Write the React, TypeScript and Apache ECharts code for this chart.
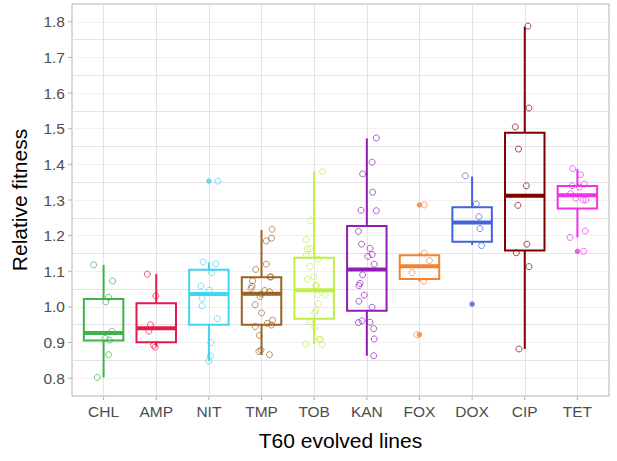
import React, { useEffect, useRef } from "react";
import * as echarts from "echarts";

const categories = ["CHL", "AMP", "NIT", "TMP", "TOB", "KAN", "FOX", "DOX", "CIP", "TET"];
const colors = ["#3cb44b", "#e6194b", "#42d4f4", "#9a6324", "#bfef45", "#911eb4", "#f58231", "#4363d8", "#800000", "#f032e6"];

// box statistics
const whiskerLow = [0.802, 0.889, 0.848, 0.865, 0.896, 0.863, 1.072, 1.174, 0.882, 1.195];
const q1 = [0.906, 0.901, 0.950, 0.950, 0.967, 0.989, 1.078, 1.183, 1.158, 1.276];
const median = [0.927, 0.940, 1.036, 1.037, 1.047, 1.105, 1.114, 1.237, 1.312, 1.313];
const q3 = [1.022, 1.010, 1.104, 1.083, 1.138, 1.227, 1.145, 1.280, 1.489, 1.339];
const whiskerHigh = [1.118, 1.092, 1.125, 1.216, 1.380, 1.473, 1.151, 1.366, 1.786, 1.387];

// boxplot outliers (filled)
const outlierCategory = [2, 6, 6, 7, 9];
const outlierValue = [1.353, 1.286, 0.922, 1.008, 1.156];

// jittered observations: values and horizontal jitter (in category units)
const chlValues = [1.118, 1.073, 1.027, 1.014, 0.932, 0.912, 0.907, 0.866, 0.802];
const chlJitter = [-0.19, 0.17, 0.095, 0.04, 0.16, 0.03, 0.11, 0.095, -0.12];
const ampValues = [1.092, 1.031, 0.950, 0.932, 0.892, 0.887];
const ampJitter = [-0.17, -0.01, -0.11, -0.14, -0.05, -0.02];
const nitValues = [1.353, 1.126, 1.121, 1.096, 1.059, 1.047, 1.024, 1.003, 0.967, 0.900, 0.862, 0.848];
const nitJitter = [0.17, -0.11, 0.13, 0.05, -0.15, 0.01, -0.13, -0.13, 0.16, 0.04, 0.03, 0.0];
const tmpValues = [1.218, 1.193, 1.185, 1.120, 1.105, 1.073, 1.084, 1.084, 1.058, 1.052, 1.046, 1.043, 1.036, 1.029, 1.006, 0.983, 0.963, 0.954, 0.949, 0.945, 0.920, 0.879, 0.875, 0.866];
const tmpJitter = [0.20, 0.19, 0.09, 0.09, -0.11, -0.17, 0.16, 0.18, -0.18, -0.2, 0.06, 0.15, -0.01, -0.03, -0.12, 0.0, 0.21, 0.11, 0.19, -0.12, -0.04, -0.01, -0.05, 0.15];
const tobValues = [1.380, 1.242, 1.189, 1.163, 1.163, 1.146, 1.134, 1.113, 1.085, 1.078, 1.060, 1.060, 1.034, 1.034, 1.009, 0.990, 0.983, 0.959, 0.942, 0.909, 0.909, 0.896, 0.894];
const tobJitter = [0.16, -0.07, -0.15, -0.13, -0.08, -0.15, 0.07, -0.08, -0.01, -0.13, 0.03, 0.04, 0.21, 0.06, 0.08, 0.03, 0.01, -0.08, 0.01, 0.09, 0.12, -0.16, 0.15];
const kanValues = [1.474, 1.406, 1.373, 1.322, 1.271, 1.270, 1.212, 1.176, 1.164, 1.147, 1.142, 1.120, 1.090, 1.066, 1.060, 1.033, 1.016, 0.999, 0.961, 0.956, 0.957, 0.939, 0.910, 0.863];
const kanJitter = [0.18, 0.10, -0.08, 0.11, -0.11, 0.18, -0.16, -0.10, 0.06, 0.10, 0.02, 0.14, -0.08, -0.13, -0.15, -0.05, -0.15, 0.10, -0.09, -0.16, 0.06, 0.13, 0.14, 0.13];
const foxValues = [1.286, 1.151, 1.130, 1.096, 1.072, 0.922];
const foxJitter = [0.09, 0.09, 0.19, -0.14, 0.08, -0.05];
const doxValues = [1.368, 1.289, 1.253, 1.220, 1.172];
const doxJitter = [-0.13, 0.08, 0.13, 0.15, 0.18];
const cipValues = [1.788, 1.558, 1.505, 1.443, 1.340, 1.285, 1.176, 1.152, 1.113, 0.882];
const cipJitter = [0.06, 0.08, -0.18, -0.12, 0.03, -0.13, 0.04, -0.16, 0.08, -0.11];
const tetValues = [1.388, 1.371, 1.345, 1.340, 1.336, 1.318, 1.305, 1.300, 1.300, 1.195, 1.213, 1.156];
const tetJitter = [-0.09, 0.06, 0.13, -0.10, 0.04, -0.13, -0.03, 0.11, 0.16, -0.14, 0.15, 0.12];

const groupValues = [chlValues, ampValues, nitValues, tmpValues, tobValues, kanValues, foxValues, doxValues, cipValues, tetValues];
const groupJitter = [chlJitter, ampJitter, nitJitter, tmpJitter, tobJitter, kanJitter, foxJitter, doxJitter, cipJitter, tetJitter];

const yTickLabels = [0.8, 0.9, 1.0, 1.1, 1.2, 1.3, 1.4, 1.5, 1.6, 1.7, 1.8];

const X_MIN = -0.6;
const X_MAX = 9.6;
const Y_MIN = 0.75;
const Y_MAX = 1.85;
const FONT = "'Liberation Sans', Arial, Helvetica, sans-serif";

export default function App() {
  const ref = useRef<HTMLDivElement>(null);

  useEffect(() => {
    if (!ref.current) return;
    const chart = echarts.init(ref.current, null, { renderer: "svg" });

    const boxData = categories.map((_, i) => [i, whiskerLow[i], q1[i], median[i], q3[i], whiskerHigh[i]]);

    const pointData: any[] = [];
    groupValues.forEach((vals, g) => {
      vals.forEach((v, k) => {
        pointData.push({
          value: [g + groupJitter[g][k], v],
          itemStyle: { borderColor: colors[g] },
        });
      });
    });

    const outlierData = outlierCategory.map((c, k) => ({
      value: [c, outlierValue[k]],
      itemStyle: { color: colors[c] },
    }));

    const option: any = {
      animation: false,
      textStyle: { fontFamily: FONT },
      grid: {
        left: 72,
        right: 8,
        top: 4,
        bottom: 65,
        show: true,
        borderColor: "#b3b3b3",
        borderWidth: 1,
        backgroundColor: "#ffffff",
      },
      xAxis: {
        type: "value",
        min: X_MIN,
        max: X_MAX,
        splitNumber: 10,
        name: "T60 evolved lines",
        nameLocation: "middle",
        nameGap: 34,
        nameTextStyle: { fontSize: 21, color: "#000000", fontFamily: FONT },
        axisLine: { show: false },
        axisTick: { show: false },
        axisLabel: {
          margin: 7,
          fontSize: 15.5,
          color: "#4d4d4d",
          fontFamily: FONT,
          showMinLabel: false,
          showMaxLabel: false,
          formatter: (v: number) => {
            const r = Math.round(v);
            return Math.abs(v - r) < 1e-6 && r >= 0 && r < categories.length ? categories[r] : "";
          },
        },
        splitLine: {
          show: true,
          showMinLine: false,
          showMaxLine: false,
          lineStyle: { color: "#e3e3e3", width: 1 },
        },
      },
      yAxis: {
        type: "value",
        min: Y_MIN,
        max: Y_MAX,
        interval: 0.05,
        name: "Relative fitness",
        nameLocation: "middle",
        nameGap: 42,
        nameTextStyle: { fontSize: 21, color: "#000000", fontFamily: FONT },
        axisLine: { show: false },
        axisTick: { show: false },
        axisLabel: {
          margin: 7,
          fontSize: 15.5,
          color: "#4d4d4d",
          fontFamily: FONT,
          formatter: (v: number) => {
            const match = yTickLabels.find((t) => Math.abs(t - v) < 1e-6);
            return match !== undefined ? match.toFixed(1) : "";
          },
        },
        splitLine: {
          show: true,
          showMinLine: false,
          showMaxLine: false,
          lineStyle: { color: ["#f1f1f1", "#e3e3e3"], width: 1 },
        },
      },
      series: [
        {
          type: "custom",
          name: "xticks",
          silent: true,
          clip: false,
          data: categories.map((_, i) => [i, Y_MIN]),
          renderItem: (params: any, api: any) => {
            const p = api.coord([api.value(0), api.value(1)]);
            return {
              type: "line",
              shape: { x1: p[0], y1: p[1], x2: p[0], y2: p[1] + 4 },
              style: { stroke: "#b3b3b3", lineWidth: 1 },
            };
          },
        },
        {
          type: "custom",
          name: "yticks",
          silent: true,
          clip: false,
          data: yTickLabels.map((t) => [X_MIN, t]),
          renderItem: (params: any, api: any) => {
            const p = api.coord([api.value(0), api.value(1)]);
            return {
              type: "line",
              shape: { x1: p[0] - 4, y1: p[1], x2: p[0], y2: p[1] },
              style: { stroke: "#b3b3b3", lineWidth: 1 },
            };
          },
        },
        {
          type: "custom",
          name: "boxes",
          silent: true,
          encode: { x: 0, y: [1, 2, 3, 4, 5] },
          data: boxData,
          renderItem: (params: any, api: any) => {
            const x = api.value(0);
            const c = colors[params.dataIndex];
            const pLo = api.coord([x, api.value(1)]);
            const pQ1 = api.coord([x, api.value(2)]);
            const pMed = api.coord([x, api.value(3)]);
            const pQ3 = api.coord([x, api.value(4)]);
            const pHi = api.coord([x, api.value(5)]);
            const half = api.size([0.75, 0])[0] / 2;
            const lw = 2;
            return {
              type: "group",
              children: [
                {
                  type: "line",
                  shape: { x1: pLo[0], y1: pLo[1], x2: pQ1[0], y2: pQ1[1] },
                  style: { stroke: c, lineWidth: lw },
                },
                {
                  type: "line",
                  shape: { x1: pQ3[0], y1: pQ3[1], x2: pHi[0], y2: pHi[1] },
                  style: { stroke: c, lineWidth: lw },
                },
                {
                  type: "rect",
                  shape: { x: pQ1[0] - half, y: pQ3[1], width: half * 2, height: pQ1[1] - pQ3[1] },
                  style: { stroke: c, lineWidth: lw, fill: "none" },
                },
                {
                  type: "line",
                  shape: { x1: pMed[0] - half, y1: pMed[1], x2: pMed[0] + half, y2: pMed[1] },
                  style: { stroke: c, lineWidth: 4 },
                },
              ],
            };
          },
        },
        {
          type: "scatter",
          name: "outliers",
          silent: true,
          symbol: "circle",
          symbolSize: 5.5,
          data: outlierData,
        },
        {
          type: "scatter",
          name: "points",
          silent: true,
          symbol: "circle",
          symbolSize: 6,
          itemStyle: { color: "rgba(255,255,255,0)", borderWidth: 0.9 },
          data: pointData,
        },
      ],
    };

    chart.setOption(option);
    return () => chart.dispose();
  }, []);

  return (
    <div
      ref={ref}
      style={{ position: "fixed", left: 0, top: 0, width: 617, height: 461, background: "#ffffff" }}
    />
  );
}
